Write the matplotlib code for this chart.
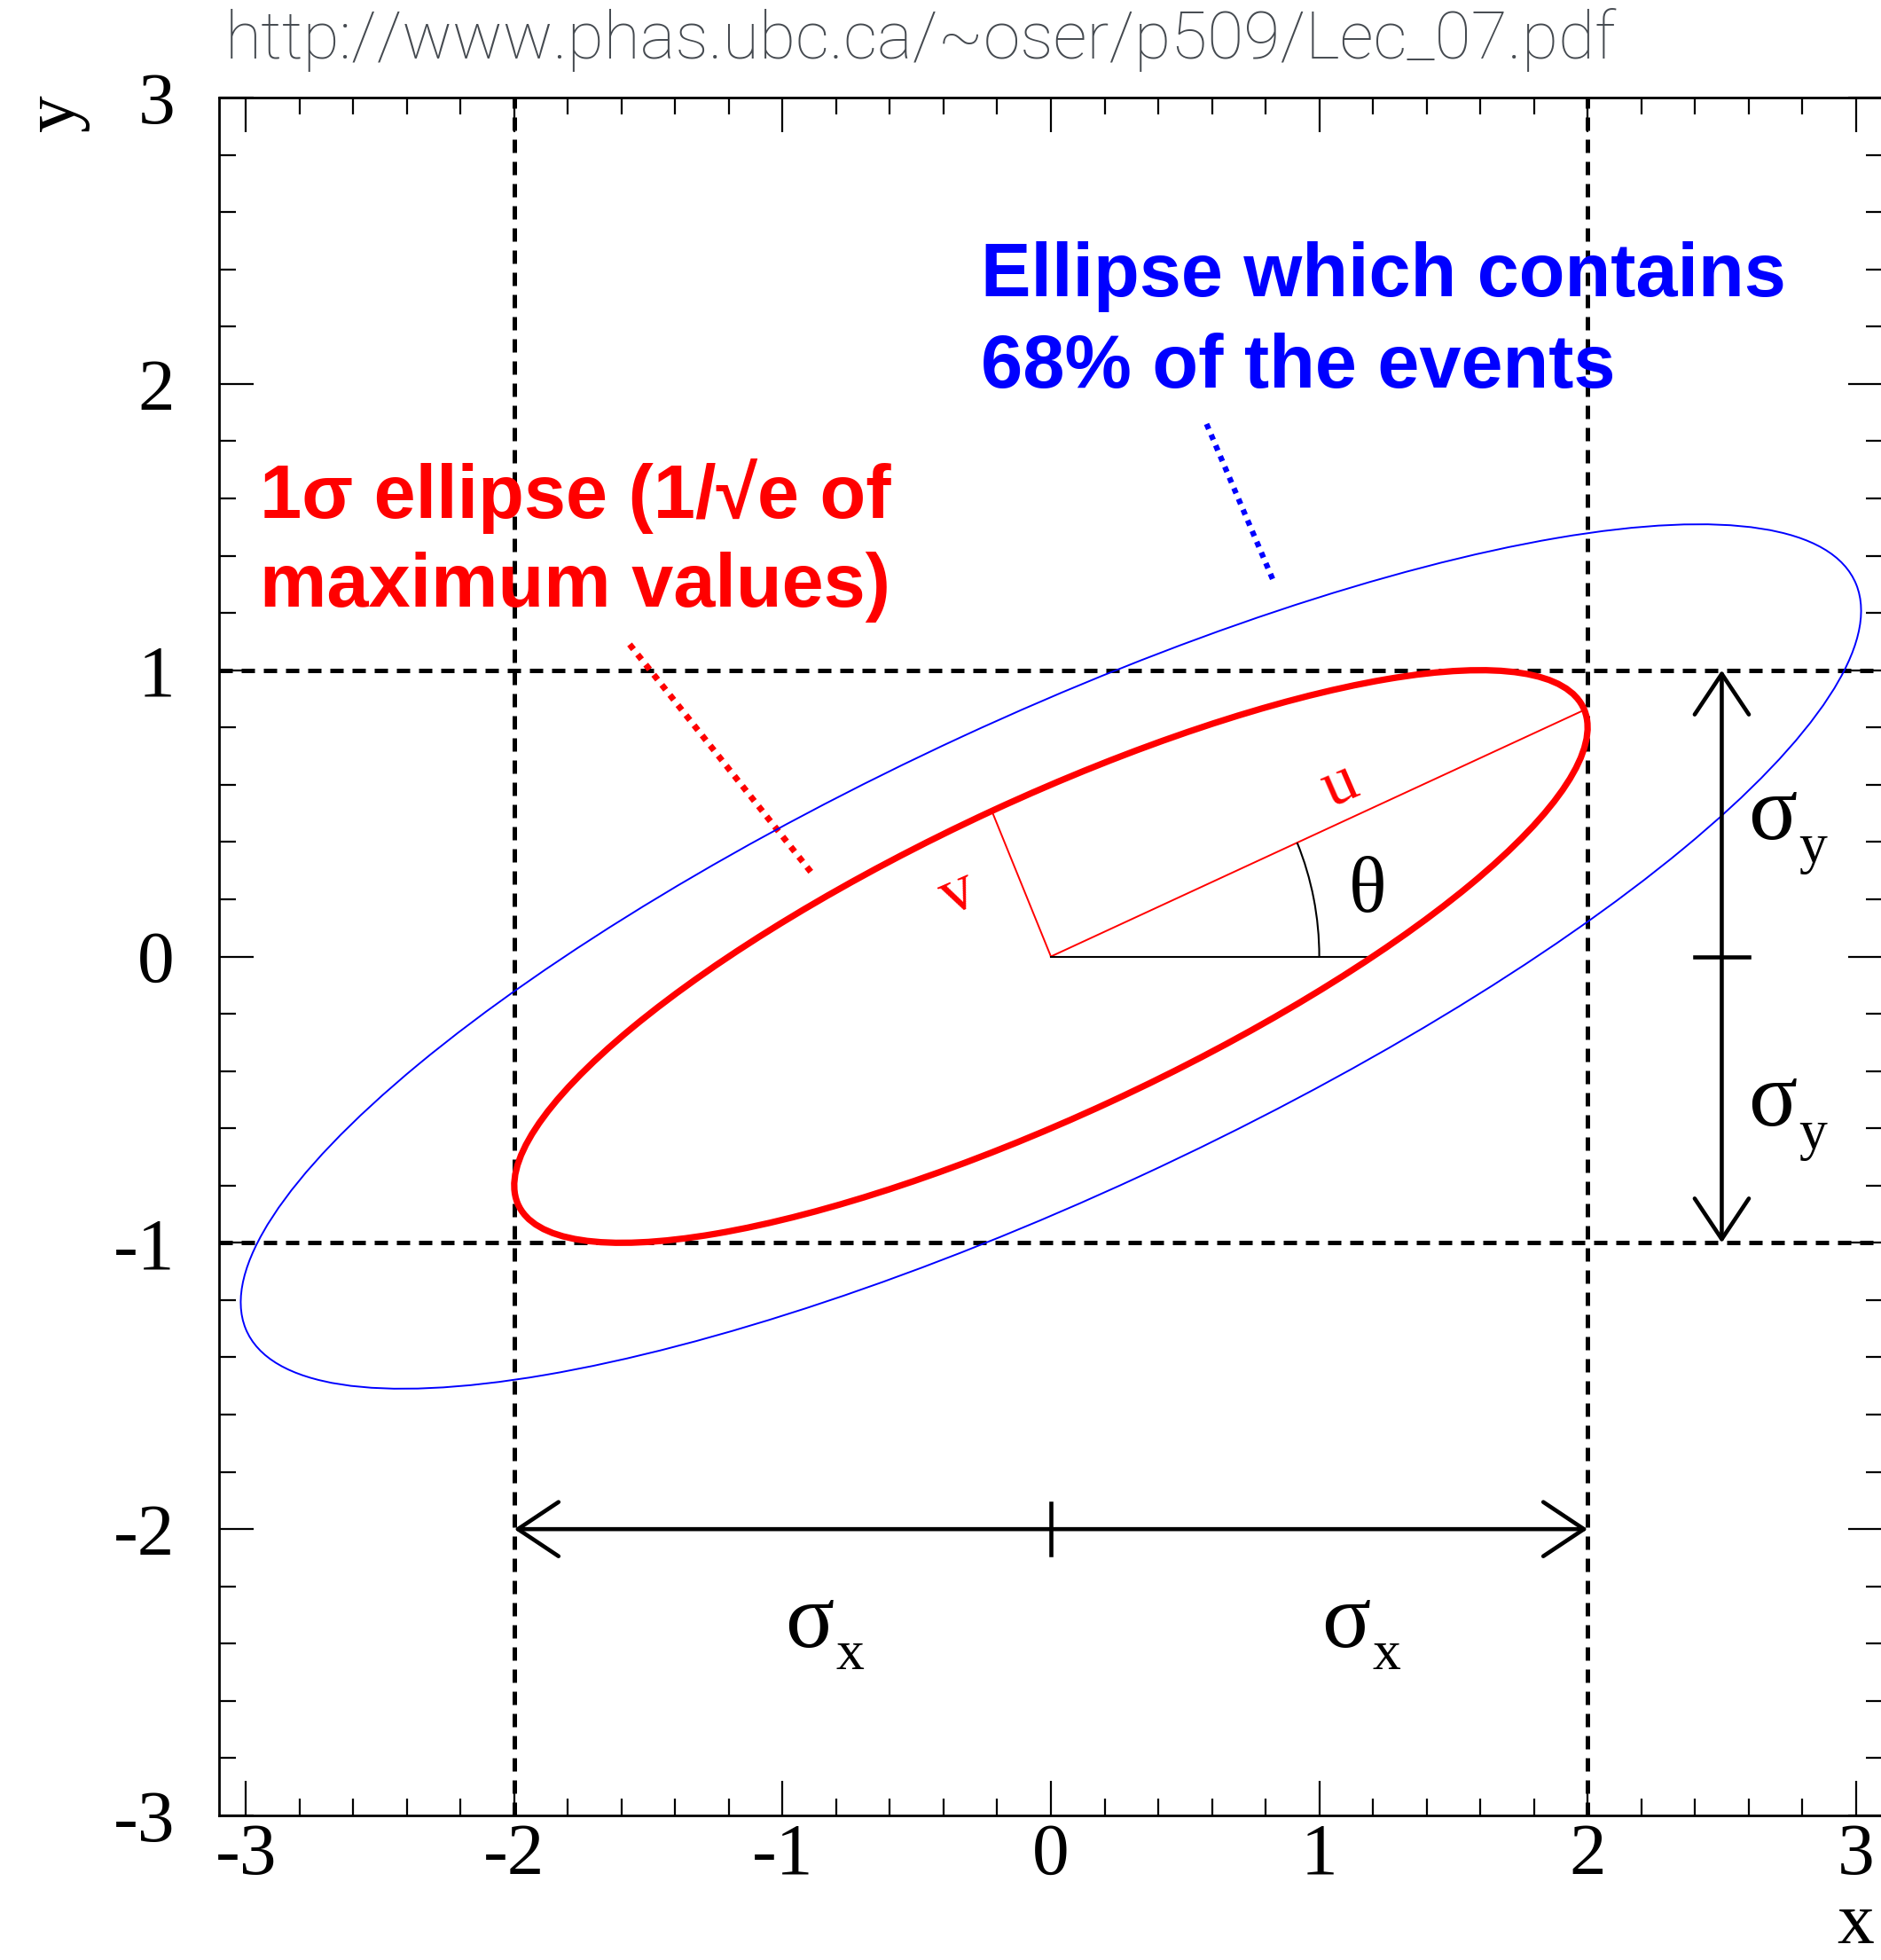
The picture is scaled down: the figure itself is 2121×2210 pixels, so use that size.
import numpy as np
import matplotlib.pyplot as plt
from matplotlib.patches import Ellipse, Arc

plt.rcParams['axes.unicode_minus'] = False

# bivariate gaussian: widths and correlation
sigma_x = 2.0
sigma_y = 1.0
rho = 0.8
frac_inside = 0.68   # fraction of events inside the outer (blue) contour

x_lim = [-3.1, 3.1]
y_lim = [-3.0, 3.0]
major_ticks = [-3, -2, -1, 0, 1, 2, 3]
tick_labels = ['-3', '-2', '-1', '0', '1', '2', '3']

url_text = 'http://www.phas.ubc.ca/~oser/p509/Lec_07.pdf'
red_lines = ['1σ ellipse (1/√e of', 'maximum values)']
blue_lines = ['Ellipse which contains', '68% of the events']

# dotted pointer lines from the captions to the curves
red_ptr_x = [-1.57, -0.89]
red_ptr_y = [1.09, 0.29]
blue_ptr_x = [0.58, 0.83]
blue_ptr_y = [1.86, 1.31]

# where the sigma arrows sit
arrow_x = 2.5
arrow_y = -2.0

serif = 'Liberation Serif'
sans = 'Liberation Sans'

W, H = 2121, 2210
fig = plt.figure(figsize=(W / 100, H / 100), dpi=100)
ax = fig.add_axes([247 / W, 163 / H, 1876 / W, 1937 / H])
ax.set_xlim(x_lim)
ax.set_ylim(y_lim)

# covariance -> principal axes
cov = np.array([[sigma_x**2, rho * sigma_x * sigma_y],
                [rho * sigma_x * sigma_y, sigma_y**2]])
evals, evecs = np.linalg.eigh(cov)
a = np.sqrt(evals[1])
b = np.sqrt(evals[0])
theta = np.arctan2(evecs[1, 1], evecs[0, 1])
if np.cos(theta) < 0:
    theta += np.pi
ang = np.degrees(theta)
k = np.sqrt(-2 * np.log(1 - frac_inside))

# dashed sigma box
dash = dict(color='black', lw=3.6, dashes=(3.0, 2.0), zorder=1)
ax.axvline(-sigma_x, **dash)
ax.axvline(sigma_x, **dash)
ax.axhline(-sigma_y, **dash)
ax.axhline(sigma_y, **dash)

ax.add_patch(Ellipse((0, 0), 2 * k * a, 2 * k * b, angle=ang, fill=False,
                     ec='blue', lw=1.4, zorder=3))
ax.add_patch(Ellipse((0, 0), 2 * a, 2 * b, angle=ang, fill=False,
                     ec='red', lw=5.2, zorder=4))

# u and v axes
ax.plot([0, a * np.cos(theta)], [0, a * np.sin(theta)], color='red', lw=1.4, zorder=3)
ax.plot([0, -b * np.sin(theta)], [0, b * np.cos(theta)], color='red', lw=1.4, zorder=3)

# angle theta
ax.plot([0, sigma_x * np.sqrt(1 - rho**2)], [0, 0], color='black', lw=1.5, zorder=3)
ax.add_patch(Arc((0, 0), 2.0, 2.0, theta1=0, theta2=ang, color='black', lw=1.5, zorder=3))

# sigma arrows
arrow_kw = dict(arrowstyle='<->,head_length=0.33,head_width=0.22', color='black',
                lw=3.3, shrinkA=0, shrinkB=0, mutation_scale=100)
ax.annotate('', xy=(arrow_x, sigma_y), xytext=(arrow_x, -sigma_y), arrowprops=arrow_kw)
ax.annotate('', xy=(sigma_x, arrow_y), xytext=(-sigma_x, arrow_y), arrowprops=arrow_kw)
ax.plot([arrow_x - 0.1, arrow_x + 0.1], [0, 0], color='black', lw=3.3)
ax.plot([0, 0], [arrow_y - 0.09, arrow_y + 0.09], color='black', lw=3.3)


def sigma_label(x, y, sub):
    ax.text(x, y, 'σ', fontsize=74, family=serif, ha='center', va='baseline')
    ax.text(x + 0.15, y - 0.08, sub, fontsize=46, family=serif, ha='center', va='baseline')


sigma_label(2.69, 0.41, 'y')
sigma_label(2.69, -0.59, 'y')
sigma_label(-0.90, -2.41, 'x')
sigma_label(1.10, -2.41, 'x')

ax.text(1.18, 0.157, 'θ', fontsize=64, family=serif, ha='center', va='baseline')
ax.text(1.08, 0.594, 'u', fontsize=54, family=serif, color='red', ha='center',
        va='center', rotation=ang, rotation_mode='anchor')
ax.text(-0.345, 0.218, 'v', fontsize=54, family=serif, color='red', ha='center',
        va='center', rotation=ang, rotation_mode='anchor')

# captions
for i, line in enumerate(red_lines):
    ax.text(-2.948, 1.533 - 0.31 * i, line, fontsize=61, family=sans, weight='bold',
            color='red', ha='left', va='baseline')
for i, line in enumerate(blue_lines):
    ax.text(-0.261, 2.306 - 0.32 * i, line, fontsize=61, family=sans, weight='bold',
            color='blue', ha='left', va='baseline')
ax.plot(red_ptr_x, red_ptr_y, color='red', lw=5, ls=(0, (1, 1.1)))
ax.plot(blue_ptr_x, blue_ptr_y, color='blue', lw=4.5, ls=(0, (1, 1.1)))

# ROOT-like frame
ax.set_xticks(major_ticks)
ax.set_xticklabels(tick_labels)
ax.set_yticks(major_ticks)
ax.set_yticklabels(tick_labels)
ax.set_xticks(np.arange(-3.0, 3.01, 0.2), minor=True)
ax.set_yticks(np.arange(-3.0, 3.01, 0.2), minor=True)
ax.tick_params(which='both', direction='in', top=True, right=True, width=1.6)
ax.tick_params(which='major', length=28)
ax.tick_params(which='minor', length=14)
ax.tick_params(axis='x', pad=6)
ax.tick_params(axis='y', pad=36)
for lab in ax.get_xticklabels() + ax.get_yticklabels():
    lab.set_family(serif)
    lab.set_fontsize(60)
for s in ax.spines.values():
    s.set_linewidth(2)

fig.text(63 / W, 1 - 127 / H, 'y', rotation=90, fontsize=60, family=serif,
         ha='center', va='center')
fig.text(2092 / W, 1 - 2209 / H, 'x', fontsize=60, family=serif, ha='center', va='bottom')

fig.text(254 / W, 1 - 45 / H, url_text, fontsize=54, family='Roboto', weight='light',
         color='#454a50', ha='left', va='center')

fig.savefig('out.png', dpi=100)
